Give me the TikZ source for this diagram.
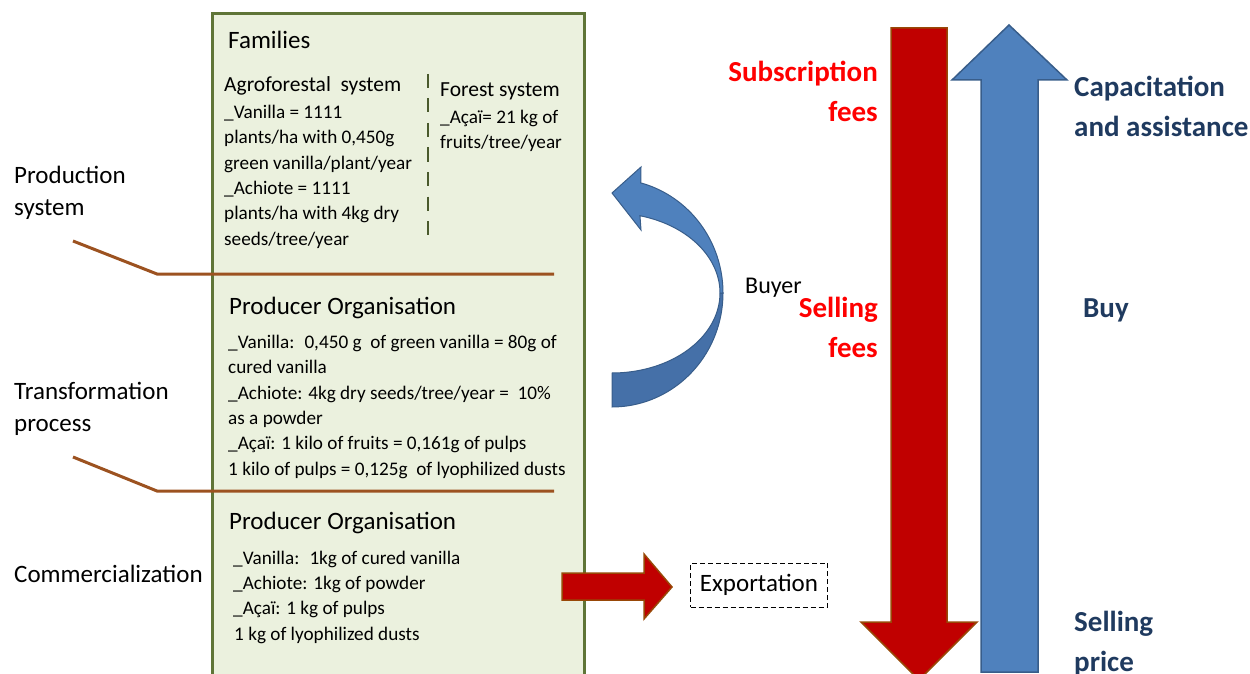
\documentclass[tikz,border=0pt]{standalone}
\usepackage{fontspec}
\setmainfont{Carlito}
\definecolor{boxfill}{HTML}{EBF1DE}
\definecolor{boxline}{HTML}{5F7537}
\definecolor{brownln}{HTML}{9C5220}
\definecolor{darkred}{HTML}{C00000}
\definecolor{redline}{HTML}{984807}
\definecolor{blueA}{HTML}{4F81BD}
\definecolor{blueB}{HTML}{4570A8}
\definecolor{blueline}{HTML}{385D8A}
\definecolor{navy}{HTML}{1F3A5F}
\definecolor{dashln}{HTML}{4A5A2C}
\begin{document}
\begin{tikzpicture}[x=1pt,y=-1pt,
  txt/.style={inner sep=0pt, anchor=base west, align=left, font=\fontsize{19.2}{25.3}\selectfont},
  ttl/.style={inner sep=0pt, anchor=base west, align=left, font=\fontsize{25}{29}\selectfont},
  sub/.style={inner sep=0pt, anchor=base west, align=left, font=\fontsize{21.5}{25}\selectfont},
  side/.style={inner sep=0pt, anchor=base west, align=left, font=\fontsize{25}{32.4}\selectfont},
  redlbl/.style={inner sep=0pt, anchor=base east, align=right, text=red, font=\fontsize{29}{40}\selectfont\bfseries},
  navylbl/.style={inner sep=0pt, anchor=base west, align=left, text=navy, font=\fontsize{29}{40}\selectfont\bfseries},
  brownrule/.style={draw=brownln, line width=3},
  fatarrowred/.style={fill=darkred, draw=redline, line width=1.5, line join=miter},
  fatarrowblue/.style={fill=blueA, draw=blueline, line width=1.5, line join=miter}
]
\useasboundingbox (0,0) rectangle (1250,674);
\clip (0,0) rectangle (1250,674);

% main box
\filldraw[fill=boxfill, draw=boxline, line width=3] (212,14) rectangle (584,700);

% brown leader lines
\coordinate (l1a) at (73,241);
\coordinate (l1b) at (157,274);
\coordinate (l1c) at (554,274);
\coordinate (l2a) at (73,457);
\coordinate (l2b) at (157,491);
\coordinate (l2c) at (554,491);
\draw[brownrule] (l1a) -- (l1b) -- (l1c);
\draw[brownrule] (l2a) -- (l2b) -- (l2c);

% dashed separator
\coordinate (d1) at (428,74);
\coordinate (d2) at (428,245);
\draw[dashln, line width=2.2, dash pattern=on 14pt off 10.5pt] (d1) -- (d2);

% left labels (anchor = baseline of last line)
\node[side] (prod) at (14,215.5) {Production\\system};
\node[side] (trans) at (14,431.7) {Transformation\\process};
\node[side] (comm) at (14,582) {Commercialization};

% top box texts
\node[ttl] (fam) at (228,48.3) {Families};
\node[sub] (agro) at (224,91.7) {Agroforestal~ system};
\node[txt] (agrotxt) at (224,245) {\_Vanilla = 1111\\plants/ha with 0,450g\\green vanilla/plant/year\\\_Achiote = 1111\\plants/ha with 4kg dry\\seeds/tree/year};
\node[sub] (forest) at (440,96.7) {Forest system};
\node[txt] (foresttxt) at (440,148.3) {\_Açaï= 21 kg of\\fruits/tree/year};

% middle
\node[ttl] (po1) at (229,314) {Producer Organisation};
\node[txt] (po1txt) at (228,475) {\_Vanilla:~ 0,450 g~ of green vanilla = 80g of\\cured vanilla\\\_Achiote: 4kg dry seeds/tree/year =~ 10\%\\as a powder\\\_Açaï: 1 kilo of fruits = 0,161g of pulps\\1 kilo of pulps = 0,125g~ of lyophilized dusts};

% bottom
\node[ttl] (po2) at (229,529) {Producer Organisation};
\node[txt] (po2txt) at (233,640) {\_Vanilla:~ 1kg of cured vanilla\\\_Achiote: 1kg of powder\\\_Açaï: 1 kg of pulps\\\hspace{1pt}1 kg of lyophilized dusts};

% curved arrow (Buyer)
\filldraw[fill=blueB, draw=blueline, line width=1]
  plot[domain=0:90, samples=40] ({612+111*cos(\x)},{293+114*sin(\x)})
  -- (612,373)
  -- plot[domain=90:0, samples=40] ({612+108*cos(\x)},{293+80*sin(\x)})
  -- cycle;
\filldraw[fill=blueA, draw=blueline, line width=1, line join=miter]
  plot[domain=0:-75, samples=40] ({612+111*cos(\x)},{293+114*sin(\x)})
  -- (641,167) -- (612,193) -- (641,230)
  -- plot[domain=-75:0, samples=40] ({612+108*cos(\x)},{293+80*sin(\x)})
  -- cycle;
\node[ttl, font=\fontsize{24}{29}\selectfont] (buyer) at (745,293) {Buyer};

% red right arrow and exportation
\filldraw[fatarrowred] (562,573) -- (644,573) -- (644,554) -- (672,587) -- (644,619) -- (644,600) -- (562,600) -- cycle;
\node[draw, dash pattern=on 5pt off 3pt, line width=1, inner sep=0pt, minimum width=137, minimum height=44, font=\fontsize{25}{29}\selectfont] (exp) at (759,585) {Exportation};

% big vertical arrows
\filldraw[fatarrowred] (891,28) -- (947,28) -- (947,622) -- (977,622) -- (919,680) -- (861,622) -- (891,622) -- cycle;
\filldraw[fatarrowblue] (981,672) -- (981,80) -- (952,80) -- (1009,25) -- (1067,80) -- (1038,80) -- (1038,672) -- cycle;

% labels on the right (anchor = baseline of last line)
\node[redlbl] (subs) at (878,121.7) {Subscription\\fees};
\node[redlbl] (sell) at (878,357) {Selling\\fees};
\node[navylbl] (cap) at (1074,136.7) {Capacitation\\and assistance};
\node[navylbl] (buy) at (1083,317) {Buy};
\node[navylbl] (price) at (1074,671.7) {Selling\\price};
\end{tikzpicture}
\end{document}
